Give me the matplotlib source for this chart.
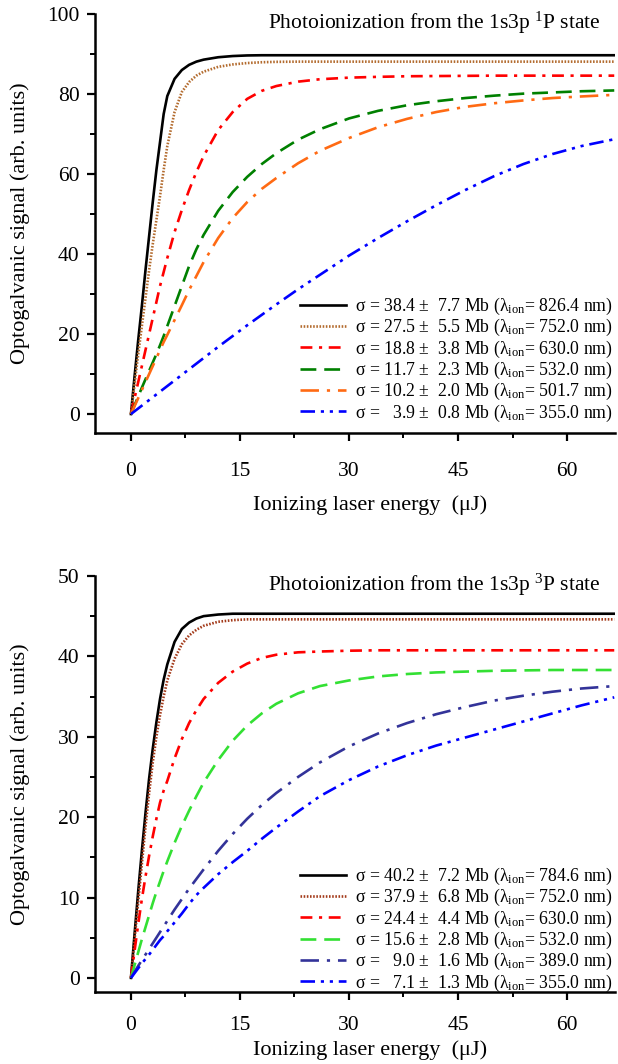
import matplotlib
matplotlib.use('Agg')
import matplotlib.pyplot as plt

plt.rcParams['font.family'] = ['Liberation Serif', 'DejaVu Serif']
plt.rcParams['mathtext.fontset'] = 'custom'
plt.rcParams['mathtext.rm'] = 'Liberation Serif'
plt.rcParams['mathtext.it'] = 'Liberation Serif:italic'

# energy grid (uJ) shared by every curve
energy = [0, 0.5, 1, 1.5, 2, 2.5, 3, 3.5, 4, 4.5, 5, 6, 7, 8, 9, 10, 12, 14, 16, 18,
          20, 23, 26, 30, 34, 38, 42, 46, 50, 54, 58, 62, 66.5]

# 1s3p 1P state
p1_black = [0, 9.5, 18.5, 27, 36, 44.5, 53, 61, 68, 75, 79.5, 83.8, 86, 87.3, 88.1, 88.6,
            89.2, 89.5, 89.65, 89.7, 89.7] + [89.7] * 12
p1_brown = [0, 7.5, 15, 22, 29, 36, 42.5, 48.5, 54.5, 61, 67, 75.5, 80.5, 83, 84.6, 85.6,
            86.8, 87.4, 87.75, 87.95, 88.05] + [88.1] * 12
p1_red = [0, 4, 8, 12, 16, 20, 24, 28, 32, 35.5, 39, 45.5, 51, 56, 60.5, 64.5, 71, 75.5,
          78.8, 80.8, 82, 83.1, 83.7, 84.1, 84.3, 84.45, 84.5, 84.55, 84.6, 84.6, 84.6, 84.6, 84.6]
p1_green = [0, 2.2, 4.4, 6.6, 8.7, 10.8, 12.9, 15, 17.2, 19.5, 22, 27, 32, 37, 41.2, 44.8,
            50.8, 55.5, 59.3, 62.5, 65.2, 68.6, 71.2, 73.9, 75.8, 77.2, 78.2, 79, 79.6, 80.1,
            80.4, 80.7, 80.9]
p1_orange = [0, 2, 4, 6, 8, 10, 12, 14, 16, 18, 19.8, 23.5, 27.2, 31, 34.5, 38, 44, 49, 53,
             56.3, 59, 62.7, 65.8, 69, 71.7, 73.8, 75.5, 76.8, 77.7, 78.4, 79, 79.4, 79.8]
p1_blue = [0, 0.7, 1.4, 2.1, 2.8, 3.5, 4.2, 4.9, 5.6, 6.3, 7.0, 8.4, 9.8, 11.2, 12.6, 14,
           16.8, 19.5, 22.2, 24.8, 27.4, 31.2, 34.8, 39.6, 44, 48.2, 52.2, 56, 59.5, 62.5,
           65, 67, 68.7]

p1_labels = [
    'σ = 38.4 ±  7.7 Mb (λ${}_{\\rm ion}$= 826.4 nm)',
    'σ = 27.5 ±  5.5 Mb (λ${}_{\\rm ion}$= 752.0 nm)',
    'σ = 18.8 ±  3.8 Mb (λ${}_{\\rm ion}$= 630.0 nm)',
    'σ = 11.7 ±  2.3 Mb (λ${}_{\\rm ion}$= 532.0 nm)',
    'σ = 10.2 ±  2.0 Mb (λ${}_{\\rm ion}$= 501.7 nm)',
    'σ =   3.9 ±  0.8 Mb (λ${}_{\\rm ion}$= 355.0 nm)',
]

# 1s3p 3P state
p3_black = [0, 5.5, 10.8, 15.8, 20.5, 24.8, 28.5, 31.8, 34.7, 37.1, 39, 41.8, 43.4, 44.2,
            44.7, 45.0, 45.2, 45.3] + [45.3] * 15
p3_brown = [0, 4.8, 9.5, 14.2, 18.8, 23, 26.8, 30, 32.7, 35, 37, 39.7, 41.5, 42.6, 43.3,
            43.8, 44.3, 44.5] + [44.6] * 15
p3_red = [0, 3.4, 6.7, 9.8, 12.6, 15.2, 17.6, 19.8, 21.8, 23.3, 24.5, 27.3, 29.7, 31.7,
          33.3, 34.7, 36.7, 38.1, 39.1, 39.8, 40.2, 40.5, 40.6, 40.7, 40.75] + [40.75] * 8
p3_green = [0, 1.6, 3.2, 4.8, 6.3, 7.8, 9.3, 10.7, 12, 13.3, 14.5, 16.8, 18.9, 20.8, 22.6,
            24.3, 27.1, 29.5, 31.4, 32.9, 34.1, 35.4, 36.3, 37.0, 37.5, 37.8, 38.0, 38.1,
            38.2, 38.25, 38.3, 38.3, 38.3]
p3_slate = [0, 0.75, 1.5, 2.2, 2.9, 3.6, 4.3, 5, 5.7, 6.4, 7.1, 8.5, 9.8, 11.1, 12.3, 13.5,
            15.8, 17.9, 19.8, 21.5, 23, 25, 26.8, 28.8, 30.4, 31.7, 32.8, 33.7, 34.5, 35.1,
            35.6, 36.0, 36.3]
p3_blue = [0, 0.6, 1.2, 1.8, 2.35, 2.9, 3.5, 4.1, 4.7, 5.2, 5.8, 6.9, 8.0, 9.2, 10.3, 11.2,
           12.9, 14.4, 15.8, 17.3, 18.7, 20.7, 22.6, 24.6, 26.3, 27.7, 28.9, 29.9, 30.9,
           31.9, 32.9, 33.9, 34.9]

p3_labels = [
    'σ = 40.2 ±  7.2 Mb (λ${}_{\\rm ion}$= 784.6 nm)',
    'σ = 37.9 ±  6.8 Mb (λ${}_{\\rm ion}$= 752.0 nm)',
    'σ = 24.4 ±  4.4 Mb (λ${}_{\\rm ion}$= 630.0 nm)',
    'σ = 15.6 ±  2.8 Mb (λ${}_{\\rm ion}$= 532.0 nm)',
    'σ =   9.0 ±  1.6 Mb (λ${}_{\\rm ion}$= 389.0 nm)',
    'σ =   7.1 ±  1.3 Mb (λ${}_{\\rm ion}$= 355.0 nm)',
]

solid = '-'
dotted = (0, (0.6, 0.6))
dashdot = (0, (4.5, 2.5, 1.2, 2.5))
dashed = (0, (6, 3))
longdashdot = (0, (7, 3, 1.2, 3))
dashdotdot = (0, (5.5, 2.2, 1.2, 2.2, 1.2, 2.2))


def panel(ax, curves, labels, ymin, ymax, yminor, title, tickpad, xlab_y, leg_y):
    for (vals, col, ls), lab in zip(curves, labels):
        ax.plot(energy, vals, color=col, linestyle=ls, lw=1.9, label=lab)
    ax.set_xlim(-4.95, 66.6)
    ax.set_ylim(ymin, ymax)
    ax.spines['top'].set_visible(False)
    ax.spines['right'].set_visible(False)
    ax.spines['left'].set_linewidth(1.8)
    ax.spines['bottom'].set_linewidth(1.8)
    ax.set_xticks([0, 15, 30, 45, 60])
    ax.set_xticks([7.5, 22.5, 37.5, 52.5], minor=True)
    ax.set_yticks(range(0, ymax + 1, 2 * yminor))
    ax.set_yticks(range(yminor, ymax, 2 * yminor), minor=True)
    ax.tick_params(which='major', direction='out', length=6, width=1.6, labelsize=15.5)
    ax.tick_params(which='minor', direction='out', length=3.5, width=1.4)
    ax.tick_params(axis='x', which='major', pad=tickpad)
    ax.tick_params(axis='y', which='major', pad=5)
    ax.text(0.972, 0.978, title, transform=ax.transAxes, ha='right', va='center', fontsize=15.5)
    ax.text(-0.144, 0.5, 'Optogalvanic signal (arb. units)', transform=ax.transAxes,
            rotation=90, ha='center', va='center', fontsize=16)
    ax.text(0.529, xlab_y, 'Ionizing laser energy  (μJ)', transform=ax.transAxes,
            ha='center', va='center', fontsize=16)
    ax.legend(loc='lower right', bbox_to_anchor=(1.02, leg_y), frameon=False, fontsize=12.8,
              handlelength=2.6, handletextpad=0.5, labelspacing=0.01, borderpad=0.2)


fig = plt.figure(figsize=(6.18, 10.64), dpi=100)

ax1 = fig.add_axes([0.1537, 0.5930, 0.8414, 0.3938])
curves1 = [(p1_black, 'black', solid), (p1_brown, '#b36b2e', dotted),
           (p1_red, '#ff0000', dashdot), (p1_green, '#008000', dashed),
           (p1_orange, '#ff6a13', longdashdot), (p1_blue, '#0000ff', dashdotdot)]
panel(ax1, curves1, p1_labels, -4.75, 100, 10,
      r'Photoionization from the 1s3p $^{1}$P state', 15, -0.172, -0.007)

ax2 = fig.add_axes([0.1537, 0.0677, 0.8414, 0.3910])
curves2 = [(p3_black, 'black', solid), (p3_brown, '#a33a1a', dotted),
           (p3_red, '#ff0000', dashdot), (p3_green, '#33e033', dashed),
           (p3_slate, '#333399', longdashdot), (p3_blue, '#0000ff', dashdotdot)]
panel(ax2, curves2, p3_labels, -1.75, 50, 5,
      r'Photoionization from the 1s3p $^{3}$P state', 11, -0.139, -0.034)

fig.savefig('out.png', dpi=100)
